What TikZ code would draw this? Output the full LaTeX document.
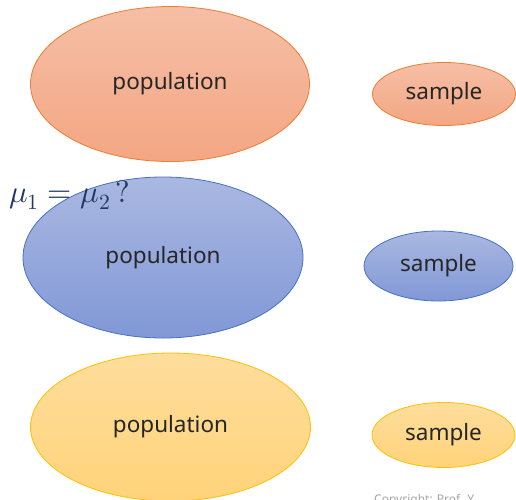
\documentclass[tikz,border=0pt]{standalone}
\usepackage{fontspec}
\setmainfont{Noto Sans}
\usepackage{unicode-math}
\usetikzlibrary{shapes.geometric}
\definecolor{orfill1}{HTML}{F5BFA6}
\definecolor{orfill2}{HTML}{F4A683}
\definecolor{oredge}{HTML}{ED7D31}
\definecolor{blfill1}{HTML}{AAB8E1}
\definecolor{blfill2}{HTML}{8198D7}
\definecolor{bledge}{HTML}{4472C4}
\definecolor{yefill1}{HTML}{FEDD9C}
\definecolor{yefill2}{HTML}{FFD37A}
\definecolor{yeedge}{HTML}{FFC000}
\definecolor{mathblue}{HTML}{1F3864}
\tikzset{
  blob/.style={ellipse, inner sep=0pt, line width=0.8pt, font=\fontsize{22.5}{26}\selectfont, text=black!85},
  orangeblob/.style={blob, draw=oredge, top color=orfill1, bottom color=orfill2},
  blueblob/.style={blob, draw=bledge, top color=blfill1, bottom color=blfill2},
  yellowblob/.style={blob, draw=yeedge, top color=yefill1, bottom color=yefill2},
}
\begin{document}
\begin{tikzpicture}[x=1pt,y=-1pt]
\clip (0,0) rectangle (516,499);
\fill[white] (0,0) rectangle (516,499);
% row 1
\node[orangeblob, minimum width=279pt, minimum height=155pt] (pop1) at (170,84) {population};
\node[orangeblob, minimum width=143pt, minimum height=63pt] (samp1) at (444,94) {sample};
% row 2
\node[blueblob, minimum width=280pt, minimum height=161pt] (pop2) at (163,257.5) {population};
\node[blueblob, minimum width=149pt, minimum height=70pt] (samp2) at (438.5,266) {sample};
% row 3
\node[yellowblob, minimum width=280pt, minimum height=148pt] (pop3) at (170.5,427) {population};
\node[yellowblob, minimum width=143pt, minimum height=65pt] (samp3) at (443.5,435) {sample};
% question
\node[anchor=base west, inner sep=0pt, text=mathblue, font=\fontsize{31}{34}\selectfont] (q) at (9,202) {$\mu_1=\mu_2\,?$};
% copyright (cut off at the lower edge, as in the reference)
\node[anchor=north west, inner sep=0pt, text=black!35, font=\fontsize{12}{14}\selectfont] (copy) at (374,494) {Copyright: Prof. Y};
\end{tikzpicture}
\end{document}
